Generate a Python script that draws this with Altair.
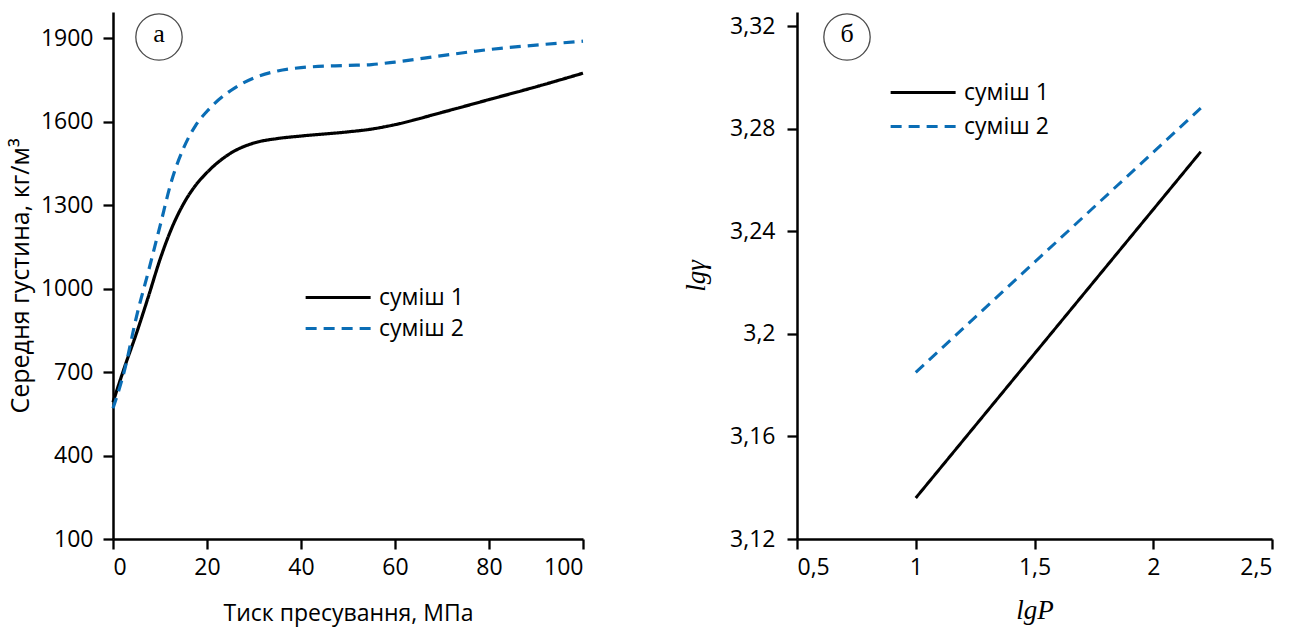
import altair as alt
import pandas as pd

# Panel (a)
pressure = [0, 2.5, 5, 7.5, 10, 12.5, 15, 17.5, 20, 25, 30, 35, 40, 50, 55, 60, 70, 80, 90, 100]
mix1_density = [592, 720, 840, 970, 1105, 1218, 1305, 1370, 1418, 1487, 1524, 1540, 1549, 1564, 1574, 1590, 1634, 1680, 1726, 1775]
mix2_density = [570, 710, 900, 1060, 1225, 1390, 1505, 1585, 1638, 1712, 1758, 1783, 1795, 1803, 1806, 1815, 1838, 1860, 1876, 1890]

# Panel (б)
lgP = [1.0, 2.2]
mix1_lg = [3.136, 3.271]
mix2_lg = [3.185, 3.288]

series = ["суміш 1", "суміш 2"]
colors = ["#000000", "#0a6db5"]
dashes = [[1, 0], [11, 7]]

yticks_a = [100, 400, 700, 1000, 1300, 1600, 1900]
xticks_a = [0, 20, 40, 60, 80, 100]
yticks_b = [3.12, 3.16, 3.2, 3.24, 3.28, 3.32]
xticks_b = [0.5, 1, 1.5, 2, 2.5]

df_a = pd.DataFrame({
    "x": pressure * 2,
    "y": mix1_density + mix2_density,
    "s": [series[0]] * len(pressure) + [series[1]] * len(pressure),
})
df_b = pd.DataFrame({
    "x": lgP * 2,
    "y": mix1_lg + mix2_lg,
    "s": [series[0]] * len(lgP) + [series[1]] * len(lgP),
})

FONT = "Open Sans"

def legend(x, y, rp):
    return alt.Legend(
        title=None, orient="none", legendX=x, legendY=y,
        symbolType="M-7,0H1", symbolSize=264, symbolStrokeWidth=3,
        labelFontSize=23, labelFont=FONT, labelColor="black", labelOffset=5,
        rowPadding=rp,
    )

def axis_common(**kw):
    base = dict(
        domainColor="black", domainWidth=2.5, tickColor="black", tickWidth=2.3,
        tickSize=10, labelFont=FONT, labelFontSize=23, labelColor="black",
        grid=False, titleColor="black", titleFontWeight="normal",
    )
    base.update(kw)
    return alt.Axis(**base)

color_scale = alt.Scale(domain=series, range=colors)
dash_scale = alt.Scale(domain=series, range=dashes)

lines_a = alt.Chart(df_a).mark_line(strokeWidth=3.2, interpolate="monotone").encode(
    x=alt.X("x:Q", scale=alt.Scale(domain=[0, 100], nice=False),
            axis=axis_common(values=xticks_a, title="Тиск пресування, МПа",
                             titleFont=FONT, titleFontSize=23, labelPadding=7,
                             titlePadding=23)),
    y=alt.Y("y:Q", scale=alt.Scale(domain=[100, 1995], nice=False),
            axis=axis_common(values=yticks_a, title="Середня густина, кг/м³",
                             format="d",
                             titleFont=FONT, titleFontSize=25, labelPadding=10,
                             titlePadding=7)),
    color=alt.Color("s:N", scale=color_scale, legend=legend(238, 274, 7)),
    strokeDash=alt.StrokeDash("s:N", scale=dash_scale, legend=legend(238, 274, 7)),
)

circle_a = alt.Chart(pd.DataFrame({"t": ["а"]})).mark_point(
    shape="circle", size=2150, color="black", strokeWidth=1.3, filled=False
).encode(x=alt.value(46), y=alt.value(25))
text_a = alt.Chart(pd.DataFrame({"t": ["а"]})).mark_text(
    font="Liberation Serif", fontSize=26, color="black", baseline="middle"
).encode(x=alt.value(46), y=alt.value(22), text="t:N")

panel_a = alt.layer(lines_a, circle_a, text_a).properties(width=470, height=527)

lines_b = alt.Chart(df_b).mark_line(strokeWidth=3).encode(
    x=alt.X("x:Q", scale=alt.Scale(domain=[0.5, 2.5], nice=False),
            axis=axis_common(values=xticks_b, title="lgP",
                             labelExpr="replace(format(datum.value, '.1~f'), '.', ',')",
                             titleFont="Liberation Serif", titleFontStyle="italic",
                             titleFontSize=27, labelPadding=7, titlePadding=18)),
    y=alt.Y("y:Q", scale=alt.Scale(domain=[3.12, 3.3255], nice=False),
            axis=axis_common(values=yticks_b, title="lgγ",
                             labelExpr="replace(format(datum.value, '.2~f'), '.', ',')",
                             titleFont="Liberation Serif", titleFontStyle="italic",
                             titleFontSize=27, labelPadding=12, titlePadding=19)),
    color=alt.Color("s:N", scale=color_scale, legend=legend(139, 69, 10)),
    strokeDash=alt.StrokeDash("s:N", scale=dash_scale, legend=legend(139, 69, 10)),
)

circle_b = alt.Chart(pd.DataFrame({"t": ["б"]})).mark_point(
    shape="circle", size=2150, color="black", strokeWidth=1.3, filled=False
).encode(x=alt.value(50), y=alt.value(25))
text_b = alt.Chart(pd.DataFrame({"t": ["б"]})).mark_text(
    font="Liberation Serif", fontSize=26, color="black", baseline="middle"
).encode(x=alt.value(50), y=alt.value(22), text="t:N")

panel_b = alt.layer(lines_b, circle_b, text_b).properties(width=475, height=527)

chart = alt.hconcat(panel_a, panel_b, spacing=214, bounds="flush").resolve_scale(
    color="independent", strokeDash="independent"
).resolve_legend(color="independent", strokeDash="independent").properties(
    padding={"left": 8, "top": 11, "right": 5, "bottom": 4},
    background="white",
).configure_view(stroke=None)

chart.save("out.html", embed_options={"renderer": "svg", "actions": False})
